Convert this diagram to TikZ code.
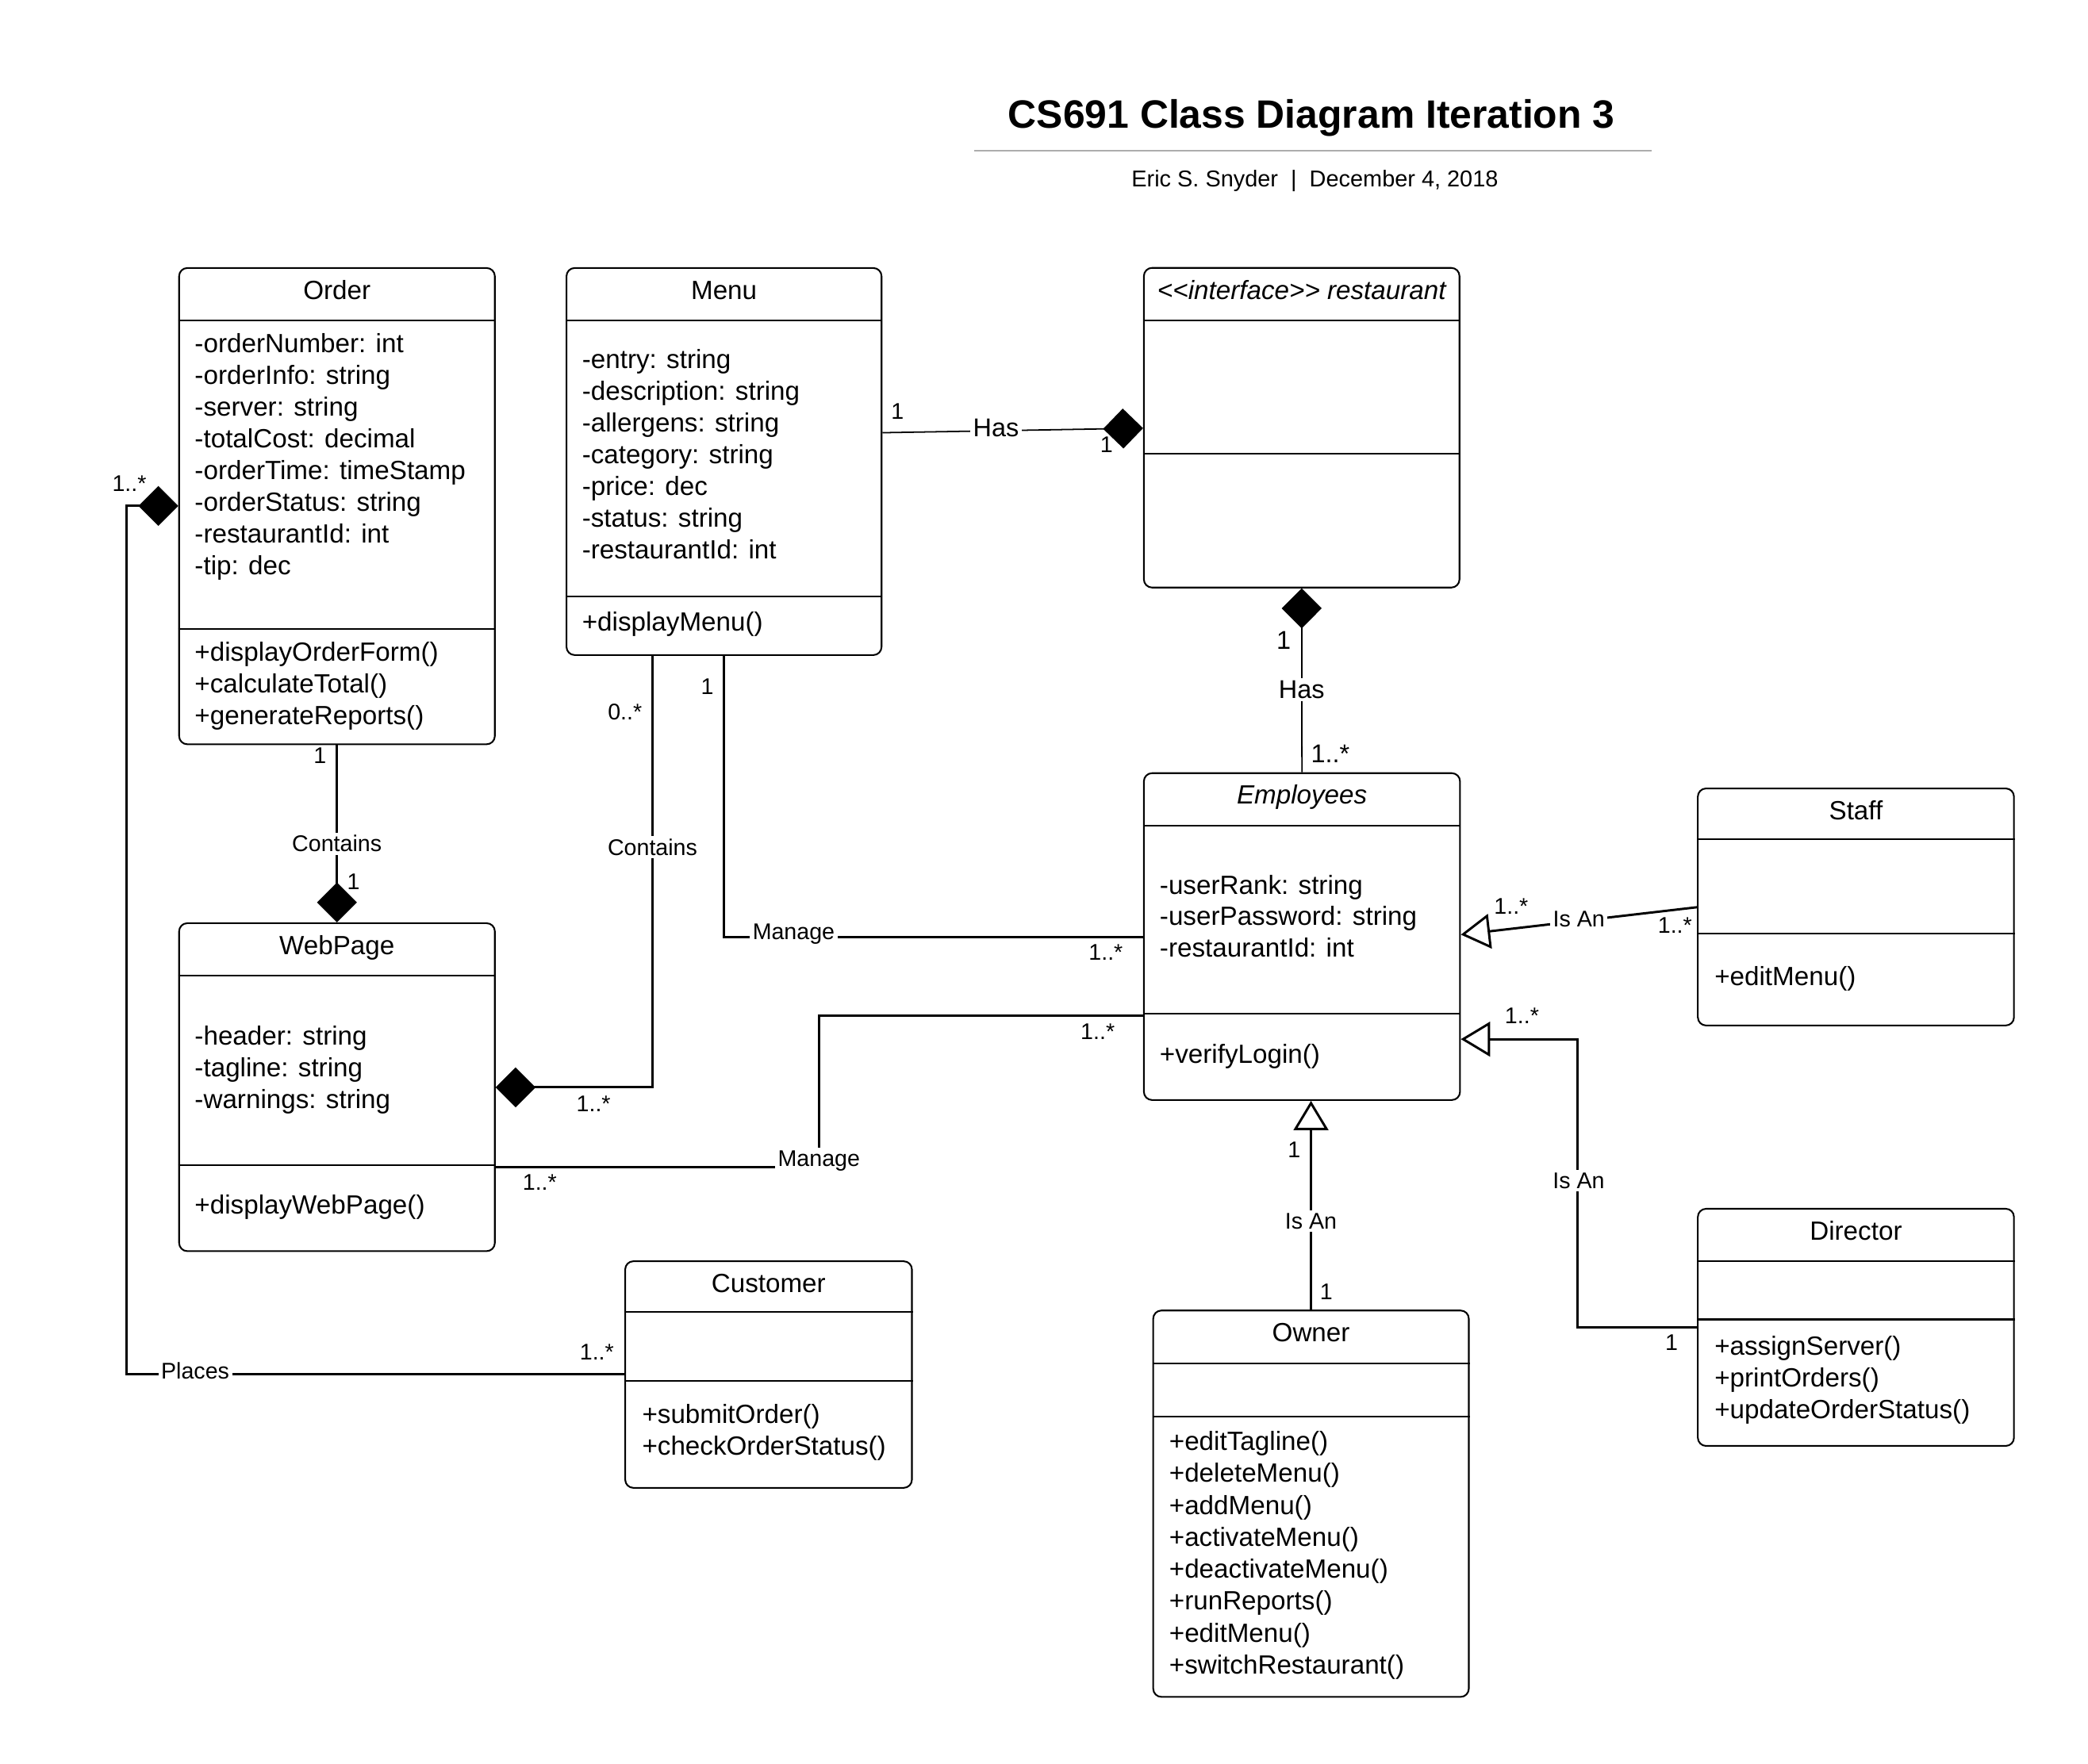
\documentclass[tikz,border=0pt]{standalone}
\usepackage{fontspec}
\setmainfont{Liberation Sans}
\usetikzlibrary{arrows.meta,fit}

\begin{document}
\begin{tikzpicture}[
      x=0.02cm, y=-0.02cm,
      classbox/.style={draw, rounded corners=3.5pt, line width=0.7pt, inner sep=0pt},
      divider/.style={line width=0.7pt},
      classname/.style={anchor=base, inner sep=0pt, font=\fontsize{11.26}{13.5}\selectfont},
      member/.style={anchor=base west, inner sep=0pt, font=\fontsize{11.26}{13.5}\selectfont},
      assoc/.style={line width=1pt},
      thinassoc/.style={line width=0.6pt},
      lbl/.style={fill=white, inner sep=1.2pt, font=\fontsize{9.7}{11}\selectfont},
      haslbl/.style={fill=white, inner sep=1.2pt, font=\fontsize{11}{13}\selectfont},
      mult/.style={inner sep=0pt, font=\fontsize{9.7}{11}\selectfont},
      bigmult/.style={inner sep=0pt, font=\fontsize{11}{13}\selectfont},
      comp/.tip={Diamond[length=6mm, width=6mm]},
      isa/.tip={Triangle[open, length=4.4mm, width=5.2mm]}
    ]

    \fill[white] (0,0) rectangle (1568,1324.36);
    \useasboundingbox (0,0) rectangle (1568,1324.36);

    % title
    \node[anchor=base, font=\fontsize{16.9}{20}\selectfont\bfseries] (title) at (984.9,96.5) {CS691 Class Diagram Iteration 3};
    \draw[black!32, line width=0.9pt] (731.5,113.2) -- (1240.3,113.2);
    \node[anchor=base, font=\fontsize{9.8}{12}\selectfont] (byline) at (987.4,140.4) {Eric S. Snyder\ \ |\ \ December 4, 2018};

    % Order
    \node[classbox, fit={(134.5,201.3) (371.6,559)}] (Order) {};
    \draw[divider] (Order.west |- 0,240.7) -- (Order.east |- 0,240.7);
    \draw[divider] (Order.west |- 0,472.6) -- (Order.east |- 0,472.6);
    \node[classname] at (Order.north |- 0,225) {Order};
    \foreach \t [count=\i from 0] in {-orderNumber: int, -orderInfo: string, -server: string, -totalCost: decimal, -orderTime: timeStamp, -orderStatus: string, -restaurantId: int, -tip: dec}
        \node[member] at (145.9,{265+23.8*\i}) {\t};
    \foreach \t [count=\i from 0] in {+displayOrderForm(), +calculateTotal(), +generateReports()}
        \node[member] at (145.9,{496.5+23.8*\i}) {\t};

    % Menu
    \node[classbox, fit={(425.4,201.3) (662,492)}] (Menu) {};
    \draw[divider] (Menu.west |- 0,240.7) -- (Menu.east |- 0,240.7);
    \draw[divider] (Menu.west |- 0,447.9) -- (Menu.east |- 0,447.9);
    \node[classname] at (Menu.north |- 0,225) {Menu};
    \foreach \t [count=\i from 0] in {-entry: string, -description: string, -allergens: string, -category: string, -price: dec, -status: string, -restaurantId: int}
        \node[member] at (436.8,{276.8+23.8*\i}) {\t};
    \node[member] at (436.8,474) {+displayMenu()};

    % restaurant
    \node[classbox, fit={(859,201.2) (1096,441.3)}] (Rest) {};
    \draw[divider] (Rest.west |- 0,240.7) -- (Rest.east |- 0,240.7);
    \draw[divider] (Rest.west |- 0,340.8) -- (Rest.east |- 0,340.8);
    \node[classname, font=\fontsize{11.26}{13.5}\selectfont\itshape] at (Rest.north |- 0,225) {<{}<interface>{}> restaurant};

    % Employees
    \node[classbox, fit={(859,580.7) (1096.4,826.2)}] (Emp) {};
    \draw[divider] (Emp.west |- 0,620.1) -- (Emp.east |- 0,620.1);
    \draw[divider] (Emp.west |- 0,761.6) -- (Emp.east |- 0,761.6);
    \node[classname, font=\fontsize{11.26}{13.5}\selectfont\itshape] at (Emp.north |- 0,604) {Employees};
    \foreach \t [count=\i from 0] in {-userRank: string, -userPassword: string, -restaurantId: int}
        \node[member] at (870.6,{671.4+23.75*\i}) {\t};
    \node[member] at (870.6,798.7) {+verifyLogin()};

    % Staff
    \node[classbox, fit={(1275,592.2) (1512.4,770.2)}] (Staff) {};
    \draw[divider] (Staff.west |- 0,630.5) -- (Staff.east |- 0,630.5);
    \draw[divider] (Staff.west |- 0,701.3) -- (Staff.east |- 0,701.3);
    \node[classname] at (Staff.north |- 0,615.8) {Staff};
    \node[member] at (1287.2,740.3) {+editMenu()};

    % Director
    \node[classbox, fit={(1275,907.9) (1512.4,1086)}] (Dir) {};
    \draw[divider] (Dir.west |- 0,947.2) -- (Dir.east |- 0,947.2);
    \draw[divider] (Dir.west |- 0,991) -- (Dir.east |- 0,991);
    \node[classname] at (Dir.north |- 0,931.6) {Director};
    \foreach \t [count=\i from 0] in {+assignServer(), +printOrders(), +updateOrderStatus()}
        \node[member] at (1287.2,{1018+23.75*\i}) {\t};

    % Owner
    \node[classbox, fit={(866,984.3) (1103,1274.5)}] (Owner) {};
    \draw[divider] (Owner.west |- 0,1023.8) -- (Owner.east |- 0,1023.8);
    \draw[divider] (Owner.west |- 0,1064.1) -- (Owner.east |- 0,1064.1);
    \node[classname] at (Owner.north |- 0,1007.6) {Owner};
    \foreach \t [count=\i from 0] in {+editTagline(), +deleteMenu(), +addMenu(), +activateMenu(), +deactivateMenu(), +runReports(), +editMenu(), +switchRestaurant()}
        \node[member] at (877.7,{1089.3+24*\i}) {\t};

    % WebPage
    \node[classbox, fit={(134.5,693.4) (371.6,939.7)}] (Web) {};
    \draw[divider] (Web.west |- 0,733) -- (Web.east |- 0,733);
    \draw[divider] (Web.west |- 0,875.1) -- (Web.east |- 0,875.1);
    \node[classname] at (Web.north |- 0,717) {WebPage};
    \foreach \t [count=\i from 0] in {-header: string, -tagline: string, -warnings: string}
        \node[member] at (145.9,{785+23.75*\i}) {\t};
    \node[member] at (145.9,912) {+displayWebPage()};

    % Customer
    \node[classbox, fit={(469.5,947.3) (684.8,1117.5)}] (Cust) {};
    \draw[divider] (Cust.west |- 0,985.6) -- (Cust.east |- 0,985.6);
    \draw[divider] (Cust.west |- 0,1036.9) -- (Cust.east |- 0,1036.9);
    \node[classname] at (Cust.north |- 0,971) {Customer};
    \foreach \t [count=\i from 0] in {+submitOrder(), +checkOrderStatus()}
        \node[member] at (481.9,{1069+23.8*\i}) {\t};

    % Has
    \draw[thinassoc, -comp] (Menu.east |- 0,325) -- (Rest.west |- 0,321.6);
    \node[haslbl] at (748,321.5) {Has};
    \node[mult] at (674,308.7) {1};
    \node[mult] at (831,334) {1};

    \draw[thinassoc, comp-] (Rest.south) -- (Emp.north);
    \node[haslbl] at (977.5,518) {Has};
    \node[bigmult] at (964,481) {1};
    \node[bigmult] at (999,566) {1..*};

    % Contains
    \draw[assoc, -comp] (Order.south) -- (Web.north);
    \node[lbl] at (253,633.6) {Contains};
    \node[mult] at (240.3,567.8) {1};
    \node[mult] at (265.4,662.3) {1};

    \draw[assoc, -comp] (Menu.south -| 490,0) |- (Web.east |- 0,816.7);
    \node[lbl] at (490,636.2) {Contains};
    \node[mult] at (469.3,535) {0..*};
    \node[mult] at (445.7,829.1) {1..*};

    % Manage
    \draw[assoc] (Menu.south -| 543.8,0) |- (Emp.west |- 0,703.7);
    \node[lbl] at (596,701.7) {Manage};
    \node[mult] at (531.2,515.6) {1};
    \node[mult] at (830.4,715.4) {1..*};

    \draw[assoc] (Web.east |- 0,876.4) -| (615.3,763) -- (Emp.west |- 0,763);
    \node[lbl] at (615,872) {Manage};
    \node[mult] at (405.3,888.3) {1..*};
    \node[mult] at (824.3,774.6) {1..*};

    % Places
    \draw[assoc, comp-] (Order.west |- 0,380) -- (94.9,380) |- (Cust.west |- 0,1032);
    \node[lbl] at (146.6,1029.5) {Places};
    \node[mult] at (97.1,363) {1..*};
    \node[mult] at (448.2,1015.6) {1..*};

    % Is An
    \draw[assoc, -isa] (Staff.west |- 0,681.4) -- (Emp.east |- 0,702);
    \node[lbl] at (1185.7,690.4) {Is An};
    \node[mult] at (1134.8,681) {1..*};
    \node[mult] at (1257.8,695.1) {1..*};

    \draw[assoc, -isa] (Dir.west |- 0,996.8) -- (1184.5,996.8) |- (Emp.east |- 0,780.5);
    \node[lbl] at (1185.5,887) {Is An};
    \node[mult] at (1142.9,763) {1..*};
    \node[mult] at (1255.2,1008.6) {1};

    \draw[assoc, -isa] (Owner.north) -- (Owner.north |- Emp.south);
    \node[lbl] at (984.5,917.4) {Is An};
    \node[mult] at (971.9,863.7) {1};
    \node[mult] at (996,970) {1};

\end{tikzpicture}
\end{document}
